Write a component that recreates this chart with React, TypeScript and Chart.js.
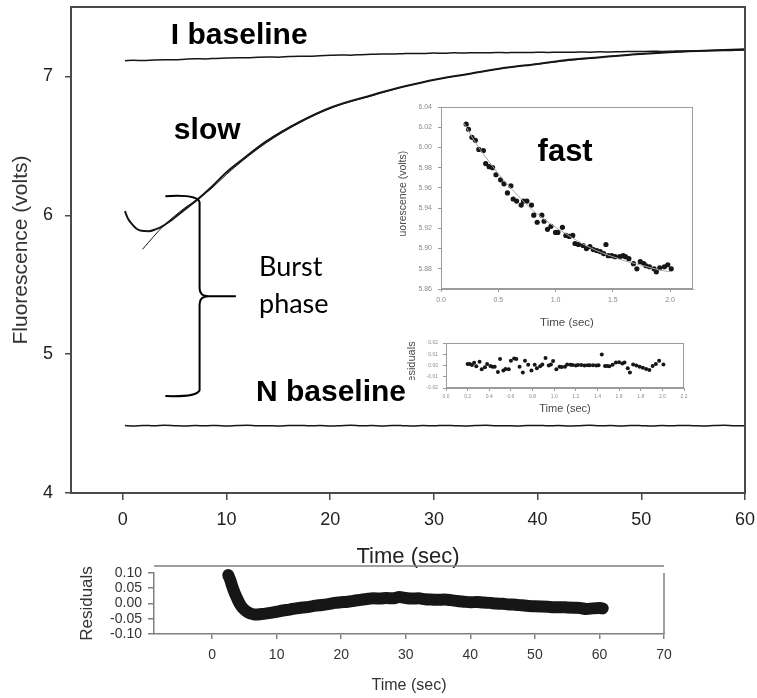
import { useEffect, useRef } from 'react';
import { Chart, registerables } from 'chart.js';

Chart.register(...registerables);

const FONT = '"Liberation Sans", Arial, Helvetica, sans-serif';
const NOTE_FONT = 'Lato, "Open Sans", sans-serif';

// ---- main kinetic trace: time (s) vs fluorescence (V) ----
const BASE_T = [
  0.2, 1, 2, 3, 4, 5, 6, 7, 8, 9, 10, 11, 12, 13, 14, 15, 16, 17, 18, 19, 20,
  21, 22, 23, 24, 25, 26, 27, 28, 29, 30, 31, 32, 33, 34, 35, 36, 37, 38, 39, 40,
  41, 42, 43, 44, 45, 46, 47, 48, 49, 50, 51, 52, 53, 54, 55, 56, 57, 58, 59, 60,
];
const I_BASELINE = [
  7.113, 7.116, 7.115, 7.119, 7.121, 7.120, 7.124, 7.127, 7.126, 7.130, 7.133,
  7.135, 7.134, 7.138, 7.140, 7.139, 7.143, 7.146, 7.145, 7.149, 7.152,
  7.154, 7.153, 7.157, 7.160, 7.162, 7.161, 7.164, 7.166, 7.165, 7.168,
  7.167, 7.170, 7.169, 7.171, 7.170, 7.172, 7.171, 7.173, 7.172, 7.174,
  7.173, 7.175, 7.174, 7.176, 7.175, 7.177, 7.176, 7.178, 7.179, 7.180,
  7.181, 7.180, 7.182, 7.184, 7.183, 7.185, 7.187, 7.186, 7.188, 7.190,
];
const N_BASELINE = [
  4.486, 4.483, 4.487, 4.484, 4.488, 4.485, 4.482, 4.486, 4.484, 4.487,
  4.483, 4.486, 4.488, 4.484, 4.485, 4.482, 4.486, 4.487, 4.484, 4.486,
  4.483, 4.485, 4.488, 4.484, 4.486, 4.483, 4.487, 4.485, 4.482, 4.486,
  4.484, 4.487, 4.485, 4.483, 4.486, 4.488, 4.484, 4.485, 4.482, 4.486,
  4.487, 4.484, 4.486, 4.483, 4.485, 4.488, 4.484, 4.486, 4.483, 4.487,
  4.485, 4.482, 4.486, 4.484, 4.487, 4.485, 4.483, 4.486, 4.488, 4.484,
  4.485,
];
const SLOW_T = [
  0.2, 0.5, 0.9, 1.3, 1.8, 2.5, 3.2, 3.8, 4.5, 5.1, 6.2, 7.3, 8.5, 10, 11.5,
  13.8, 17, 20.2, 24, 27, 30.3, 33.5, 36.7, 40, 43, 46.3, 49.5, 52.7, 56, 60,
];
const SLOW_V = [
  6.03, 5.975, 5.935, 5.905, 5.888, 5.885, 5.9, 5.92, 5.955, 5.99, 6.055, 6.12, 6.2, 6.31, 6.4,
  6.53, 6.67, 6.78, 6.865, 6.925, 6.98, 7.02, 7.06, 7.09, 7.12, 7.14, 7.16, 7.175, 7.185, 7.195,
];
const SLOW_FIT_T = [
  1.9, 3, 4, 5, 6, 7, 8.5, 10, 11.5, 13.8, 17, 20.2, 24, 27, 30.3, 33.5, 36.7,
  40, 43, 46.3, 49.5, 52.7, 56, 60,
];
const SLOW_FIT_V = [
  5.755, 5.85, 5.93, 5.995, 6.055, 6.105, 6.19, 6.295, 6.39, 6.52, 6.665, 6.775, 6.86,
  6.925, 6.98, 7.02, 7.06, 7.09, 7.115, 7.14, 7.16, 7.175, 7.185, 7.195,
];
const MAIN_X_TICKS = [0, 10, 20, 30, 40, 50, 60];
const MAIN_Y_TICKS = [4, 5, 6, 7];

// ---- fast phase (first 2 s) ----
const FAST_T = [
  0.22, 0.24, 0.27, 0.30, 0.33, 0.37, 0.39, 0.42, 0.45, 0.48,
  0.52, 0.55, 0.58, 0.61, 0.63, 0.66, 0.70, 0.72, 0.75, 0.79,
  0.81, 0.84, 0.88, 0.90, 0.93, 0.96, 1.00, 1.02, 1.06, 1.09,
  1.12, 1.15, 1.17, 1.20, 1.24, 1.27, 1.30, 1.33, 1.36, 1.39,
  1.42, 1.44, 1.46, 1.49, 1.52, 1.56, 1.59, 1.61, 1.64, 1.68,
  1.71, 1.74, 1.77, 1.79, 1.82, 1.86, 1.88, 1.91, 1.95, 1.98,
  2.01,
];
const FAST_V = [
  6.023, 6.018, 6.010, 6.007, 5.998, 5.997, 5.984, 5.981, 5.980, 5.973,
  5.968, 5.964, 5.955, 5.962, 5.949, 5.947, 5.943, 5.947, 5.947, 5.943,
  5.933, 5.926, 5.933, 5.927, 5.919, 5.922, 5.916, 5.916, 5.921, 5.913,
  5.912, 5.913, 5.905, 5.904, 5.903, 5.900, 5.902, 5.899, 5.898, 5.897,
  5.895, 5.904, 5.893, 5.893, 5.892, 5.892, 5.893, 5.892, 5.890, 5.885,
  5.880, 5.887, 5.885, 5.883, 5.882, 5.880, 5.877, 5.881, 5.882, 5.884,
  5.880,
];
const FAST_FIT_T = [0.2, 0.3, 0.4, 0.5, 0.6, 0.7, 0.8, 0.9, 1.0, 1.1, 1.2, 1.3, 1.4, 1.5, 1.6, 1.7, 1.8, 1.9, 2.0];
const FAST_FIT_V = [
  6.024, 6.005, 5.989, 5.974, 5.961, 5.949, 5.938, 5.929, 5.921, 5.914,
  5.907, 5.901, 5.896, 5.892, 5.888, 5.885, 5.882, 5.879, 5.877,
];
const FAST_X_TICKS = [0, 0.5, 1.0, 1.5, 2.0];
const FAST_Y_TICKS = [5.86, 5.88, 5.90, 5.92, 5.94, 5.96, 5.98, 6.0, 6.02, 6.04];

// ---- residuals of the fast-phase fit ----
const FAST_RES_T = [
  0.20, 0.22, 0.24, 0.26, 0.28, 0.31, 0.33, 0.36, 0.38, 0.41, 0.43, 0.45,
  0.48, 0.50, 0.53, 0.55, 0.58, 0.60, 0.63, 0.65, 0.68, 0.71, 0.73, 0.76,
  0.79, 0.82, 0.84, 0.87, 0.89, 0.92, 0.95, 0.97, 0.99, 1.02, 1.05, 1.07,
  1.10, 1.12, 1.15, 1.17, 1.20, 1.22, 1.25, 1.28, 1.31, 1.33, 1.36, 1.39,
  1.41, 1.44, 1.47, 1.49, 1.51, 1.54, 1.57, 1.60, 1.63, 1.65, 1.68, 1.70,
  1.73, 1.76, 1.79, 1.82, 1.85, 1.88, 1.91, 1.94, 1.97, 2.01,
];
const FAST_RES_V = [
  0.0013, 0.0013, 0.0004, 0.0025, -0.0007, 0.0034, -0.0034, -0.0016, 0.0013, -0.0004, -0.0010, -0.0010,
  -0.0057, 0.0057, -0.0045, -0.0030, -0.0034, 0.0042, 0.0063, 0.0057, -0.0010, -0.0063, 0.0042, 0.0007,
  -0.0045, 0.0007, -0.0025, -0.0007, 0.0010, 0.0066, -0.0001, 0.0010, 0.0040, -0.0034, -0.0010, -0.0013,
  -0.0010, 0.0010, 0.0007, 0.0004, 0.0001, 0.0004, 0.0004, 0.0001, 0.0003, 0.0002, 0.0003, 0.0001,
  0.0002, 0.0098, -0.0005, -0.0005, -0.0007, 0.0007, 0.0026, 0.0030, 0.0018, 0.0027, -0.0025, -0.0063,
  0.0010, -0.0001, -0.0010, -0.0019, -0.0031, -0.0040, -0.0004, 0.0013, 0.0042, 0.0010,
];
const FAST_RES_X_TICKS = [0, 0.2, 0.4, 0.6, 0.8, 1.0, 1.2, 1.4, 1.6, 1.8, 2.0, 2.2];
const FAST_RES_Y_TICKS = [-0.02, -0.01, 0, 0.01, 0.02];

// ---- residuals of the slow-phase fit ----
const RES_T = [
  2.5, 2.8, 3.1, 3.4, 3.8, 4.2, 4.6, 5.0, 5.5, 6.0, 6.5, 7.0, 7.5, 8, 9, 10,
  11, 12, 13, 14, 15, 16, 17, 18, 19, 20, 21, 22, 23, 24, 25, 26, 27, 28, 29, 30,
  31, 32, 33, 34, 35, 36, 37, 38, 39, 40, 41, 42, 43, 44, 45, 46, 47, 48, 49, 50,
  51, 52, 53, 54, 55, 56, 57, 58, 59, 60, 60.5,
];
const RES_V = [
  0.093, 0.078, 0.058, 0.040, 0.020, 0.002, -0.011, -0.020, -0.028, -0.033, -0.036, -0.036, -0.035, -0.034, -0.031, -0.027,
  -0.023, -0.020, -0.016, -0.013, -0.011, -0.007, -0.005, -0.002, 0.002, 0.004, 0.006, 0.009, 0.012, 0.015, 0.017, 0.016, 0.018, 0.017, 0.021, 0.018,
  0.016, 0.017, 0.014, 0.013, 0.012, 0.013, 0.011, 0.008, 0.006, 0.004, 0.005, 0.003, 0.002, 0.000, -0.001, -0.003, -0.004, -0.006, -0.008, -0.009,
  -0.010, -0.011, -0.012, -0.012, -0.013, -0.014, -0.015, -0.018, -0.016, -0.015, -0.016,
];
const RES_X_TICKS = [0, 10, 20, 30, 40, 50, 60, 70];
const RES_Y_TICKS = [-0.1, -0.05, 0, 0.05, 0.1];

// ---- helpers ----
const pts = (xs: number[], ys: number[]) => xs.map((x, i) => ({ x, y: ys[i] }));
const fixedTicks = (values: number[]) => (scale: any) => {
  scale.ticks = values.map((value) => ({ value }));
};
// Pins the thickness of an axis box so the plot area lands where intended.
const pinSize = (size: number) => (scale: any) => {
  if (scale.isHorizontal()) scale.height = size;
  else scale.width = size;
  scale.paddingLeft = 0;
  scale.paddingRight = 0;
  scale.paddingTop = 0;
  scale.paddingBottom = 0;
};
const fmt = (digits: number) => (v: any) => Number(v).toFixed(digits);

const AXIS = '#4a4a4a';
const INSET_AXIS = '#9c9c9c';
const RES_AXIS = '#808080';
const INK = '#161616';

const mainDecor = {
  id: 'mainDecor',
  afterDraw(chart: any) {
    const { ctx, chartArea: a, scales } = chart;
    const x = scales.x;
    const y = scales.y;
    ctx.save();
    ctx.strokeStyle = AXIS;
    ctx.lineWidth = 2;
    ctx.strokeRect(a.left, a.top, a.right - a.left, a.bottom - a.top);

    ctx.fillStyle = '#000';
    ctx.textAlign = 'left';
    ctx.textBaseline = 'alphabetic';
    ctx.font = `bold 30px ${FONT}`;
    ctx.fillText('I baseline', x.getPixelForValue(4.63), y.getPixelForValue(7.237));
    ctx.fillText('slow', x.getPixelForValue(4.92), y.getPixelForValue(6.547));
    ctx.fillText('N baseline', x.getPixelForValue(12.84), y.getPixelForValue(4.662));

    ctx.font = `27px ${NOTE_FONT}`;
    ctx.fillText('Burst', x.getPixelForValue(13.13), y.getPixelForValue(5.561));
    ctx.fillText('phase', x.getPixelForValue(13.13), y.getPixelForValue(5.295));

    // curly brace spanning the burst amplitude
    const x0 = x.getPixelForValue(4.1);
    const xs = x.getPixelForValue(7.4);
    const xt = x.getPixelForValue(10.9);
    const yTop = y.getPixelForValue(6.13);
    const yBot = y.getPixelForValue(4.705);
    const yMid = (yTop + yBot) / 2;
    ctx.strokeStyle = '#000';
    ctx.lineWidth = 2;
    ctx.lineJoin = 'round';
    ctx.beginPath();
    ctx.moveTo(x0, yTop - 1);
    ctx.quadraticCurveTo(xs - 2, yTop - 3, xs, yTop + 5);
    ctx.lineTo(xs, yMid - 8);
    ctx.quadraticCurveTo(xs, yMid, xs + 9, yMid);
    ctx.lineTo(xt, yMid);
    ctx.moveTo(xs + 9, yMid);
    ctx.quadraticCurveTo(xs, yMid, xs, yMid + 8);
    ctx.lineTo(xs, yBot - 5);
    ctx.quadraticCurveTo(xs - 2, yBot + 2, x0, yBot + 1);
    ctx.stroke();
    ctx.restore();
  },
};

const insetFrame = (title: string, clipFromTop: number, titleX: number, titleSize: number) => ({
  id: 'insetFrame',
  afterDraw(chart: any) {
    const { ctx, chartArea: a } = chart;
    ctx.save();
    ctx.strokeStyle = INSET_AXIS;
    ctx.lineWidth = 1;
    ctx.strokeRect(a.left + 0.5, a.top + 0.5, a.right - a.left - 1, a.bottom - a.top - 1);
    ctx.beginPath();
    ctx.rect(0, 0, a.left, a.top + clipFromTop);
    ctx.clip();
    ctx.translate(titleX, (a.top + a.bottom) / 2);
    ctx.rotate(-Math.PI / 2);
    ctx.fillStyle = '#4a4a4a';
    ctx.font = `${titleSize}px ${FONT}`;
    ctx.textAlign = 'center';
    ctx.textBaseline = 'middle';
    ctx.fillText(title, 0, 0);
    ctx.restore();
  },
});

const fastLabel = {
  id: 'fastLabel',
  afterDraw(chart: any) {
    const { ctx, scales } = chart;
    ctx.save();
    ctx.fillStyle = '#000';
    ctx.font = `bold 31px ${FONT}`;
    ctx.textAlign = 'left';
    ctx.textBaseline = 'alphabetic';
    ctx.fillText('fast', scales.x.getPixelForValue(0.843), scales.y.getPixelForValue(5.9866));
    ctx.restore();
  },
};

const resFrame = {
  id: 'resFrame',
  afterDraw(chart: any) {
    const { ctx, chartArea: a } = chart;
    ctx.save();
    ctx.strokeStyle = RES_AXIS;
    ctx.lineWidth = 1.5;
    ctx.beginPath();
    ctx.moveTo(a.left, a.top - 7);
    ctx.lineTo(a.right, a.top - 7);
    ctx.moveTo(a.right, a.top);
    ctx.lineTo(a.right, a.bottom);
    ctx.stroke();
    ctx.restore();
  },
};

function mainConfig(): any {
  const line = (data: any[], width: number) => ({
    data,
    showLine: true,
    borderColor: INK,
    borderWidth: width,
    pointRadius: 0,
    cubicInterpolationMode: 'monotone',
  });
  return {
    type: 'scatter',
    data: {
      datasets: [
        line(pts(BASE_T, I_BASELINE), 1.5),
        line(pts(BASE_T, N_BASELINE), 1.5),
        line(pts(SLOW_FIT_T, SLOW_FIT_V), 1),
        line(pts(SLOW_T, SLOW_V), 2),
      ],
    },
    options: {
      animation: false,
      responsive: false,
      layout: { padding: { left: 0, top: 7, right: 12, bottom: 0 } },
      plugins: { legend: { display: false }, tooltip: { enabled: false } },
      scales: {
        x: {
          type: 'linear',
          min: -5,
          max: 60,
          afterBuildTicks: fixedTicks(MAIN_X_TICKS),
          afterFit: pinSize(82),
          grid: { drawOnChartArea: false, tickLength: 7, color: AXIS, lineWidth: 1.5 },
          border: { color: AXIS, width: 2 },
          ticks: { padding: 9, color: '#222', autoSkip: false, maxRotation: 0, font: { family: FONT, size: 18 } },
          title: {
            display: true,
            text: 'Time (sec)',
            color: '#222',
            font: { family: FONT, size: 22 },
            padding: { top: 0, bottom: 5 },
          },
        },
        y: {
          type: 'linear',
          min: 4,
          max: 7.5,
          afterBuildTicks: fixedTicks(MAIN_Y_TICKS),
          afterFit: pinSize(71),
          grid: { drawOnChartArea: false, tickLength: 6, color: AXIS, lineWidth: 1.5 },
          border: { color: AXIS, width: 2 },
          ticks: { padding: 12, color: '#222', font: { family: FONT, size: 18 } },
          title: {
            display: true,
            text: 'Fluorescence (volts)',
            color: '#333',
            font: { family: FONT, size: 21 },
            padding: { top: 9, bottom: 0 },
          },
        },
      },
    },
    plugins: [mainDecor],
  };
}

function fastConfig(): any {
  return {
    type: 'scatter',
    data: {
      datasets: [
        {
          data: pts(FAST_FIT_T, FAST_FIT_V),
          showLine: true,
          borderColor: '#a8a8a8',
          borderWidth: 1,
          pointRadius: 0,
          cubicInterpolationMode: 'monotone',
        },
        { data: pts(FAST_T, FAST_V), pointRadius: 2.6, backgroundColor: INK, borderWidth: 0 },
      ],
    },
    options: {
      animation: false,
      responsive: false,
      layout: { padding: { left: 0, top: 12, right: 7, bottom: 0 } },
      plugins: { legend: { display: false }, tooltip: { enabled: false } },
      scales: {
        x: {
          type: 'linear',
          min: 0,
          max: 2.2,
          afterBuildTicks: fixedTicks(FAST_X_TICKS),
          afterFit: pinSize(46),
          grid: { drawOnChartArea: false, tickLength: 3, color: INSET_AXIS },
          border: { color: INSET_AXIS, width: 1 },
          ticks: { padding: 4, color: '#8a8a8a', autoSkip: false, maxRotation: 0, font: { family: FONT, size: 7 }, callback: fmt(1) },
          title: {
            display: true,
            text: 'Time (sec)',
            color: '#4a4a4a',
            font: { family: FONT, size: 11.5 },
            padding: { top: 0, bottom: 5 },
          },
        },
        y: {
          type: 'linear',
          min: 5.86,
          max: 6.04,
          afterBuildTicks: fixedTicks(FAST_Y_TICKS),
          afterFit: pinSize(61),
          grid: { drawOnChartArea: false, tickLength: 3, color: INSET_AXIS },
          border: { color: INSET_AXIS, width: 1 },
          ticks: { padding: 6, color: '#8a8a8a', autoSkip: false, font: { family: FONT, size: 7 }, callback: fmt(2) },
        },
      },
    },
    plugins: [insetFrame('Fluorescence (volts)', 130, 23, 10.5), fastLabel],
  };
}

function fastResConfig(): any {
  return {
    type: 'scatter',
    data: {
      datasets: [{ data: pts(FAST_RES_T, FAST_RES_V), pointRadius: 2, backgroundColor: INK, borderWidth: 0 }],
    },
    options: {
      animation: false,
      responsive: false,
      layout: { padding: { left: 0, top: 10, right: 11, bottom: 0 } },
      plugins: { legend: { display: false }, tooltip: { enabled: false } },
      scales: {
        x: {
          type: 'linear',
          min: 0,
          max: 2.2,
          afterBuildTicks: fixedTicks(FAST_RES_X_TICKS),
          afterFit: pinSize(32),
          grid: { drawOnChartArea: false, tickLength: 3, color: INSET_AXIS },
          border: { color: INSET_AXIS, width: 1 },
          ticks: { padding: 3, color: '#8a8a8a', autoSkip: false, maxRotation: 0, font: { family: FONT, size: 5 }, callback: fmt(1) },
          title: {
            display: true,
            text: 'Time (sec)',
            color: '#4a4a4a',
            font: { family: FONT, size: 11 },
            padding: { top: 0, bottom: 4 },
          },
        },
        y: {
          type: 'linear',
          min: -0.02,
          max: 0.02,
          afterBuildTicks: fixedTicks(FAST_RES_Y_TICKS),
          afterFit: pinSize(51),
          grid: { drawOnChartArea: false, tickLength: 3, color: INSET_AXIS },
          border: { color: INSET_AXIS, width: 1 },
          ticks: { padding: 5, color: '#8a8a8a', autoSkip: false, font: { family: FONT, size: 5 }, callback: fmt(2) },
        },
      },
    },
    plugins: [insetFrame('Residuals', 37, 17, 11)],
  };
}

function resConfig(): any {
  return {
    type: 'scatter',
    data: {
      datasets: [
        {
          data: pts(RES_T, RES_V),
          showLine: true,
          clip: false,
          borderColor: INK,
          borderWidth: 12,
          borderCapStyle: 'round',
          borderJoinStyle: 'round',
          pointRadius: 0,
          cubicInterpolationMode: 'monotone',
        },
      ],
    },
    options: {
      animation: false,
      responsive: false,
      layout: { padding: { left: 0, top: 18, right: 93, bottom: 0 } },
      plugins: { legend: { display: false }, tooltip: { enabled: false } },
      scales: {
        x: {
          type: 'linear',
          min: -9,
          max: 70,
          afterBuildTicks: fixedTicks(RES_X_TICKS),
          afterFit: pinSize(64),
          grid: { drawOnChartArea: false, tickLength: 5, color: RES_AXIS, lineWidth: 1.5 },
          border: { color: RES_AXIS, width: 1.5 },
          ticks: { padding: 8, color: '#333', autoSkip: false, maxRotation: 0, font: { family: FONT, size: 14 } },
          title: {
            display: true,
            text: 'Time (sec)',
            color: '#333',
            font: { family: FONT, size: 16 },
            padding: { top: 0, bottom: 3 },
          },
        },
        y: {
          type: 'linear',
          min: -0.1,
          max: 0.1,
          afterBuildTicks: fixedTicks(RES_Y_TICKS),
          afterFit: pinSize(154),
          grid: { drawOnChartArea: false, tickLength: 6, color: RES_AXIS, lineWidth: 1.5 },
          border: { color: RES_AXIS, width: 1.5 },
          ticks: { padding: 6, color: '#333', autoSkip: false, font: { family: FONT, size: 14 }, callback: fmt(2) },
          title: {
            display: true,
            text: 'Residuals',
            color: '#333',
            font: { family: FONT, size: 17 },
            padding: { top: 77, bottom: 0 },
          },
        },
      },
    },
    plugins: [resFrame],
  };
}

export default function App() {
  const mainRef = useRef<HTMLCanvasElement>(null);
  const resRef = useRef<HTMLCanvasElement>(null);
  const fastRef = useRef<HTMLCanvasElement>(null);
  const fastResRef = useRef<HTMLCanvasElement>(null);

  useEffect(() => {
    const charts = [
      new Chart(mainRef.current as HTMLCanvasElement, mainConfig()),
      new Chart(resRef.current as HTMLCanvasElement, resConfig()),
      new Chart(fastRef.current as HTMLCanvasElement, fastConfig()),
      new Chart(fastResRef.current as HTMLCanvasElement, fastResConfig()),
    ];
    return () => charts.forEach((c) => c.destroy());
  }, []);

  const abs = (left: number, top: number, width: number, height: number): any => ({
    position: 'absolute',
    left,
    top,
    width,
    height,
  });

  return (
    <div style={{ position: 'fixed', left: 0, top: 0, width: 757, height: 698, background: '#fff', overflow: 'hidden' }}>
      <canvas ref={mainRef} width={757} height={575} style={abs(0, 0, 757, 575)} />
      <canvas ref={resRef} width={757} height={143} style={abs(0, 555, 757, 143)} />
      <canvas ref={fastRef} width={320} height={240} style={abs(380, 95, 320, 240)} />
      <canvas ref={fastResRef} width={300} height={87} style={abs(395, 333, 300, 87)} />
    </div>
  );
}
